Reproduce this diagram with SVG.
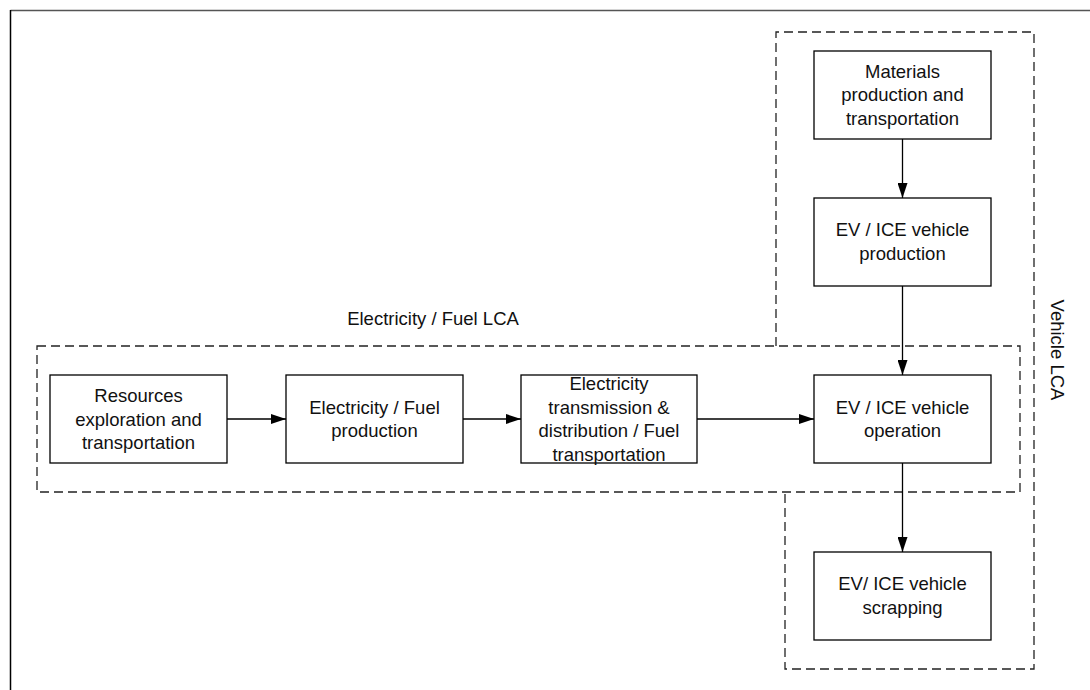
<svg xmlns="http://www.w3.org/2000/svg" width="1090" height="690" viewBox="0 0 1090 690">
<defs>
<style>
.node{fill:#fff;stroke:#000;stroke-width:1.3}
.t{font-family:"Liberation Sans",Arial,sans-serif;font-size:18.5px;fill:#111;text-anchor:middle}
.dash{fill:none;stroke:#222;stroke-width:1.3;stroke-dasharray:9 5}
.edge{fill:none;stroke:#000;stroke-width:1.3}
</style>
<marker id="arr" viewBox="0 0 15 10" refX="15" refY="5" markerWidth="15" markerHeight="10" markerUnits="userSpaceOnUse" orient="auto">
<path d="M0,0 L15,5 L0,10 Z" fill="#000"/>
</marker>
</defs>
<rect x="0" y="0" width="1090" height="690" fill="#fff"/>
<g id="frame">
<line x1="10.5" y1="10.5" x2="1090" y2="10.5" stroke="#555" stroke-width="1.5"/>
<line x1="10.5" y1="10" x2="10.5" y2="690" stroke="#000" stroke-width="1.5"/>
</g>
<g id="groups">
<path class="dash" d="M776,346 V32 H1034 V669 H785 V493"/>
<rect class="dash" x="37" y="346" width="983" height="146"/>
<text class="t" x="433" y="325">Electricity / Fuel LCA</text>
<text class="t" transform="translate(1051,350) rotate(90)">Vehicle LCA</text>
</g>
<g id="connectors">
<line class="edge" x1="227" y1="419" x2="286" y2="419" marker-end="url(#arr)"/>
<line class="edge" x1="463" y1="419" x2="521" y2="419" marker-end="url(#arr)"/>
<line class="edge" x1="697" y1="419" x2="814" y2="419" marker-end="url(#arr)"/>
<line class="edge" x1="902.5" y1="139" x2="902.5" y2="198" marker-end="url(#arr)"/>
<line class="edge" x1="902.5" y1="286" x2="902.5" y2="375" marker-end="url(#arr)"/>
<line class="edge" x1="902.5" y1="463" x2="902.5" y2="552" marker-end="url(#arr)"/>
</g>
<g id="n-resources">
<rect class="node" x="50" y="375" width="177" height="88"/>
<text class="t" x="138.5" y="402">Resources</text>
<text class="t" x="138.5" y="425.5">exploration and</text>
<text class="t" x="138.5" y="449">transportation</text>
</g>
<g id="n-production">
<rect class="node" x="286" y="375" width="177" height="88"/>
<text class="t" x="374.5" y="414">Electricity / Fuel</text>
<text class="t" x="374.5" y="437">production</text>
</g>
<g id="n-transmission">
<rect class="node" x="521" y="375" width="176" height="88"/>
<text class="t" x="609" y="390">Electricity</text>
<text class="t" x="609" y="413.5">transmission &amp;</text>
<text class="t" x="609" y="437">distribution / Fuel</text>
<text class="t" x="609" y="460.5">transportation</text>
</g>
<g id="n-materials">
<rect class="node" x="814" y="51" width="177" height="88"/>
<text class="t" x="902.5" y="77.5">Materials</text>
<text class="t" x="902.5" y="101">production and</text>
<text class="t" x="902.5" y="124.5">transportation</text>
</g>
<g id="n-vproduction">
<rect class="node" x="814" y="198" width="177" height="88"/>
<text class="t" x="902.5" y="236">EV / ICE vehicle</text>
<text class="t" x="902.5" y="260">production</text>
</g>
<g id="n-operation">
<rect class="node" x="814" y="375" width="177" height="88"/>
<text class="t" x="902.5" y="414">EV / ICE vehicle</text>
<text class="t" x="902.5" y="437">operation</text>
</g>
<g id="n-scrapping">
<rect class="node" x="814" y="552" width="177" height="88"/>
<text class="t" x="902.5" y="590">EV/ ICE vehicle</text>
<text class="t" x="902.5" y="614">scrapping</text>
</g>
</svg>
